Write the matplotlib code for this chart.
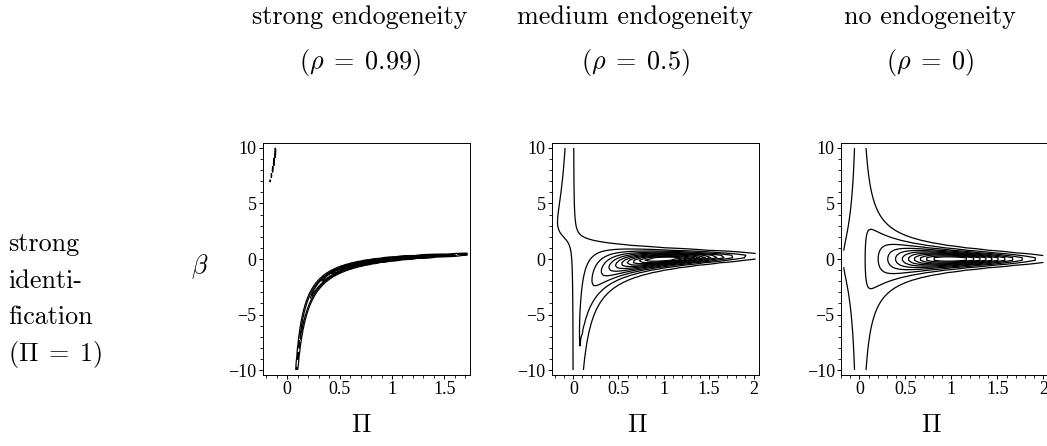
import numpy as np
import matplotlib
matplotlib.use("Agg")
import matplotlib.pyplot as plt
from matplotlib.ticker import MultipleLocator, FuncFormatter

plt.rcParams['mathtext.fontset'] = 'cm'

# design of the IV model: true values and error correlation per column
RHO = [0.99, 0.5, 0.0]
PI_TRUE = 1.0
BETA_TRUE = 0.0
POWER = 2.9          # exponent of |S(beta, Pi)|^(-POWER) in the posterior kernel
N_LEVELS = 11        # equally spaced contour levels (fraction of the maximum)

col_titles = ["strong endogeneity", "medium endogeneity", "no endogeneity"]
col_sub = [r"$(\rho\;=\;0.99)$", r"$(\rho\;=\;0.5)$", r"$(\rho\;=\;0)$"]
row_label = ["strong", "identi-", "fication", r"$(\Pi\;=\;1)$"]

# Pi range of the evaluation grid and of the axes, per column
pi_grid = [(-0.2, 1.72), (-0.2, 2.02), (-0.17, 2.0)]
pi_lim = [(-0.235, 1.745), (-0.24, 2.06), (-0.2, 2.04)]
pi_ticks = [[0, 0.5, 1, 1.5], [0, 0.5, 1, 1.5, 2], [0, 0.5, 1, 1.5, 2]]
grid_pi = [160, 90, 90]
grid_beta = [160, 90, 90]


def posterior(Pi, beta, rho):
    # population second moments of (y, x, z) for y = z*Pi*beta + u1, x = z*Pi + u2
    yy = 1.0 + (PI_TRUE * BETA_TRUE) ** 2
    xx = 1.0 + PI_TRUE ** 2
    xy = rho + PI_TRUE ** 2 * BETA_TRUE
    yz = PI_TRUE * BETA_TRUE
    xz = PI_TRUE
    s11 = yy - 2 * Pi * beta * yz + (Pi * beta) ** 2
    s22 = xx - 2 * Pi * xz + Pi ** 2
    s12 = xy - Pi * yz - Pi * beta * xz + Pi ** 2 * beta
    det = s11 * s22 - s12 ** 2
    return det ** (-POWER)


def fmt(v, pos):
    return ("%g" % v).replace("-", "\u2212")


fig = plt.figure(figsize=(10.47, 4.46), dpi=100)
W, H = 1047.0, 446.0
ax_left = [262.7, 551.7, 841.0]
ax_right = [470.0, 759.3, 1047.0]
ax_top, ax_bot = 143.0, 375.0

for k in range(3):
    ax = fig.add_axes([ax_left[k] / W, 1 - ax_bot / H,
                       (ax_right[k] - ax_left[k]) / W, (ax_bot - ax_top) / H])
    P = np.linspace(pi_grid[k][0], pi_grid[k][1], grid_pi[k])
    B = np.linspace(-10, 10, grid_beta[k])
    PP, BB = np.meshgrid(P, B)
    Z = posterior(PP, BB, RHO[k])
    Z = Z / Z.max()
    levels = np.arange(1, N_LEVELS + 1) / (N_LEVELS + 1.0)
    ax.contour(PP, BB, Z, levels=levels, colors='black', linewidths=0.9)

    ax.set_xlim(pi_lim[k])
    ax.set_ylim(-10.45, 10.45)
    ax.set_xticks(pi_ticks[k])
    ax.set_yticks([-10, -5, 0, 5, 10])
    ax.xaxis.set_minor_locator(MultipleLocator(0.1))
    ax.yaxis.set_minor_locator(MultipleLocator(1))
    ax.xaxis.set_major_formatter(FuncFormatter(fmt))
    ax.yaxis.set_major_formatter(FuncFormatter(fmt))
    ax.tick_params(which='major', direction='out', length=3, width=0.7,
                   labelsize=13, pad=1.5)
    ax.tick_params(which='minor', direction='out', length=2, width=0.6)
    for lab in ax.get_xticklabels() + ax.get_yticklabels():
        lab.set_fontfamily('Liberation Serif')
    for sp in ax.spines.values():
        sp.set_linewidth(0.7)

# column headers, axis symbols and row label
col_x = [360, 635, 930]
pi_x = [361, 637, 931]
FS = 18.8
for k in range(3):
    fig.text(col_x[k] / W, 1 - 24 / H, col_titles[k], family='cmr10',
             fontsize=FS, ha='center', va='baseline')
    fig.text(col_x[k] / W, 1 - 69 / H, col_sub[k], fontsize=FS,
             ha='center', va='baseline')
    fig.text(pi_x[k] / W, 1 - 432 / H, r"$\Pi$", fontsize=FS,
             ha='center', va='baseline')

fig.text(200 / W, 1 - 267 / H, r"$\beta$", fontsize=FS, ha='center', va='center')
for i, s in enumerate(row_label):
    fam = 'cmr10' if not s.startswith('$') else None
    fig.text(8 / W, 1 - (251 + 36.5 * i) / H, s, family=fam, fontsize=FS,
             ha='left', va='baseline')

fig.savefig("out.png", dpi=100)
